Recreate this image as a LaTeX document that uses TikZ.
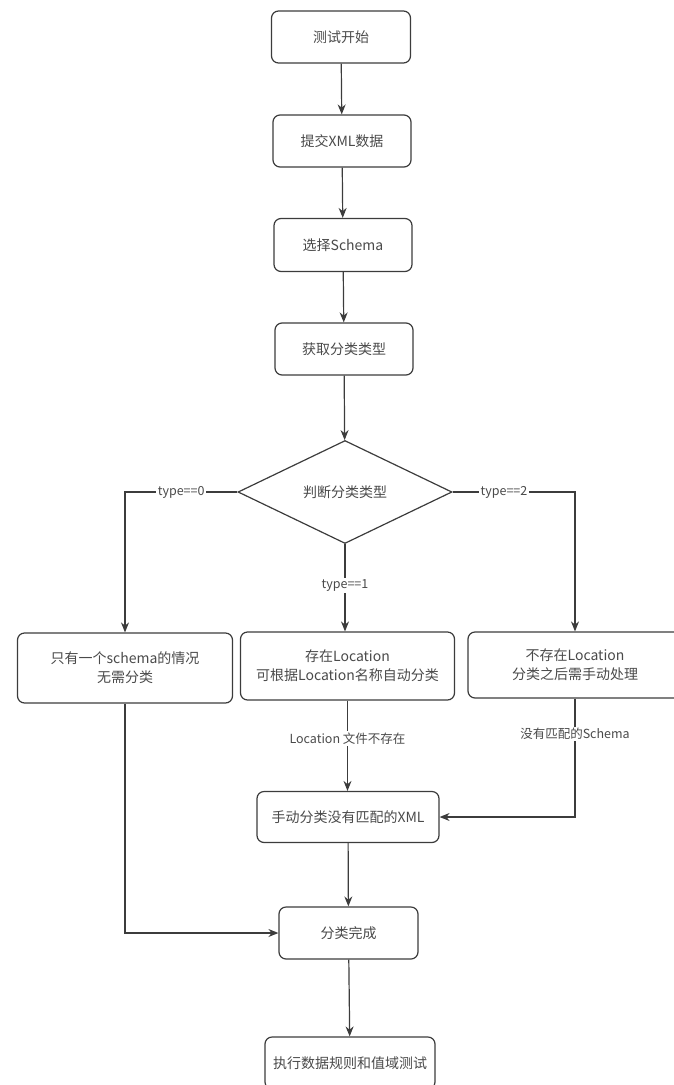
\documentclass[tikz,border=0pt]{standalone}
\usepackage{fontspec}
\setmainfont{Noto Sans CJK SC}
\usetikzlibrary{arrows.meta,shapes.geometric}
\definecolor{ln}{HTML}{3C3C3C}
\definecolor{tx}{HTML}{4A4A4A}
\begin{document}
\begin{tikzpicture}[x=1pt,y=-1pt,
  box/.style={draw=ln,line width=1.2pt,rounded corners=7pt,fill=white,text=tx,
    font=\fontsize{14}{19}\selectfont,align=center,inner sep=0pt},
  dia/.style={draw=ln,line width=1.2pt,diamond,fill=white,text=tx,
    font=\fontsize{14}{19}\selectfont,inner sep=0pt,minimum width=214pt,minimum height=103pt},
  arr/.style={draw=ln,line width=1.2pt,-{Stealth[length=10pt,width=8pt]}},
  lbl/.style={fill=white,text=tx,font=\fontsize{12.5}{15}\selectfont,inner sep=1.5pt}
]
\useasboundingbox (0,0) rectangle (674,1085);
\node[box,minimum width=139pt,minimum height=52pt] (n1) at (341,37) {测试开始};
\node[box,minimum width=138pt,minimum height=52pt] (n2) at (342,141) {提交XML数据};
\node[box,minimum width=138pt,minimum height=53pt] (n3) at (343,245) {选择Schema};
\node[box,minimum width=138pt,minimum height=52pt] (n4) at (344,349) {获取分类类型};
\node[dia] (d) at (345,492) {判断分类类型};
\node[box,minimum width=215pt,minimum height=70pt] (lb) at (125,668) {只有一个schema的情况\\无需分类};
\node[box,minimum width=214pt,minimum height=68pt] (mb) at (347.5,666) {存在Location\\可根据Location名称自动分类};
\node[box,minimum width=214pt,minimum height=66pt] (rb) at (575,665) {不存在Location\\分类之后需手动处理};
\node[box,minimum width=182pt,minimum height=51pt] (m) at (348,817) {手动分类没有匹配的XML};
\node[box,minimum width=139pt,minimum height=52pt] (done) at (348.5,933) {分类完成};
\node[box,minimum width=170pt,minimum height=52pt] (last) at (350,1063) {执行数据规则和值域测试};

\draw[arr] (n1) -- (n2);
\draw[arr] (n2) -- (n3);
\draw[arr] (n3) -- (n4);
\draw[arr] (n4) -- (d);
\draw[arr] (d.west) -- node[lbl]{type==0} (lb.north |- d.west) -- (lb.north);
\draw[arr] (d.east) -- node[lbl,pos=0.42]{type==2} (rb.north |- d.east) -- (rb.north);
\draw[arr] (d.south) -- node[lbl,pos=0.47]{type==1} (mb.north -| d.south);
\draw[arr] (mb.south) -- node[lbl,pos=0.42]{Location 文件不存在} (m.north -| mb.south);
\draw[arr] (rb.south) -- node[lbl,pos=0.3]{没有匹配的Schema} (rb.south |- m.east) -- (m.east);
\draw[arr] (m) -- (done);
\draw[arr] (lb.south) -- (lb.south |- done.west) -- (done.west);
\draw[arr] (done) -- (last);
\end{tikzpicture}
\end{document}
